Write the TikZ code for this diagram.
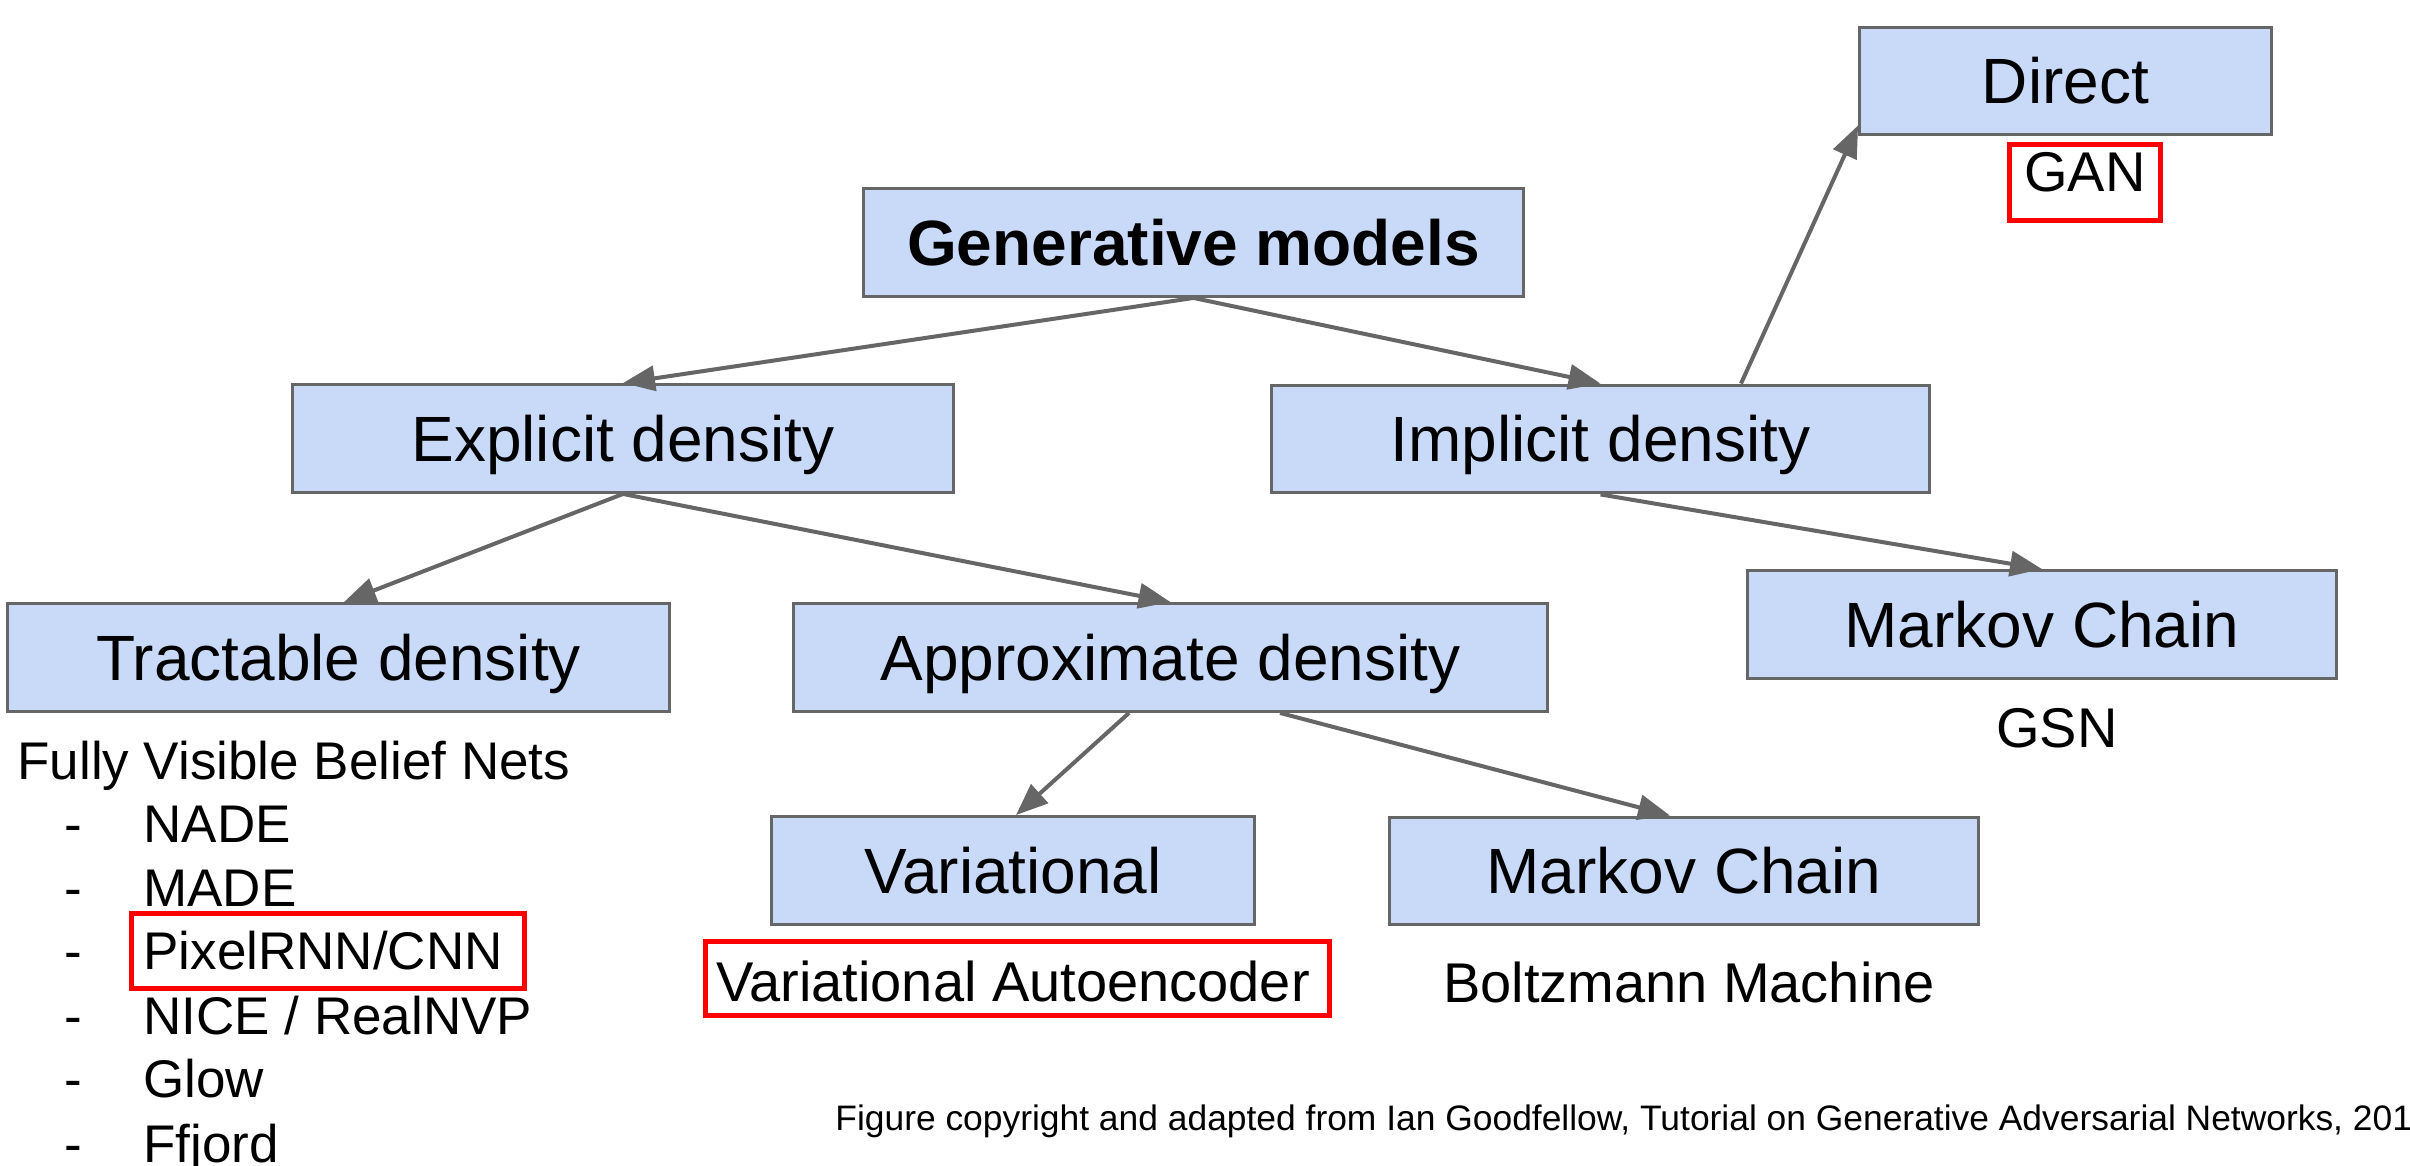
\documentclass[tikz,border=0pt]{standalone}
\usepackage{fontspec}
\setmainfont{Liberation Sans}
\usetikzlibrary{arrows.meta}
\definecolor{boxfill}{HTML}{C9DAF8}
\definecolor{boxline}{HTML}{666666}
\definecolor{hl}{HTML}{FF0000}
\begin{document}
\begin{tikzpicture}[x=0.5pt,y=-0.5pt,
  cat/.style={draw=boxline, line width=1.65pt, fill=boxfill, inner sep=0pt,
    minimum height=53.8pt, font=\fontsize{32pt}{38pt}\selectfont,
    text height=22.9pt, text depth=0pt},
  link/.style={draw=boxline, line width=2pt, -{Triangle[length=16pt,width=12.5pt]}},
  sub/.style={inner sep=0pt, anchor=base, font=\fontsize{28pt}{34pt}\selectfont},
  item/.style={inner sep=0pt, anchor=base west, font=\fontsize{26.5pt}{32pt}\selectfont},
  dashmark/.style={inner sep=0pt, anchor=base, font=\fontsize{26.5pt}{32pt}\selectfont},
  frame/.style={draw=hl, line width=2.5pt}]

\path[fill=white, use as bounding box] (0,0) rectangle (2410,1166);

% category boxes
\node[cat, minimum width=329.8pt] (gen)     at (1193.5,242.5) {\textbf{Generative models}};
\node[cat, minimum width=205.8pt] (direct)  at (2065.5,81)    {Direct};
\node[cat, minimum width=330.3pt] (expl)    at (623,438.5)    {Explicit density};
\node[cat, minimum width=328.8pt] (impl)    at (1600.5,439)   {Implicit density};
\node[cat, minimum width=294.3pt] (markovG) at (2042,624.5)   {Markov Chain};
\node[cat, minimum width=330.8pt] (tract)   at (338.5,657.5)  {Tractable density};
\node[cat, minimum width=376.8pt] (approx)  at (1170.5,657.5) {Approximate density};
\node[cat, minimum width=241.3pt] (vari)    at (1013,870.5)   {Variational};
\node[cat, minimum width=294.3pt] (markovB) at (1684,871)     {Markov Chain};

% connectors
\draw[link] (gen.south) -- (expl.north);
\draw[link] (gen.south) -- (impl.north);
\draw[link] ([xshift=70.25pt]impl.north) -- ([yshift=5.5pt]direct.south west);
\draw[link] (expl.south) -- ([xshift=2.75pt]tract.north);
\draw[link] (expl.south) -- (approx.north);
\draw[link] (impl.south) -- (markovG.north);
\draw[link] ([xshift=-20.75pt]approx.south) -- ([xshift=1.5pt]vari.north);
\draw[link] ([xshift=54.75pt]approx.south) -- ([xshift=-7pt]markovB.north);

% example models
\node[sub] (gan)   at (2085,192)  {GAN};
\node[sub] (gsn)   at (2057,747)  {GSN};
\node[sub] (vae)   at (1013,1001) {Variational Autoencoder};
\node[sub] (boltz) at (1689,1002) {Boltzmann Machine};

\node[item] (fvbn) at (17,779) {Fully Visible Belief Nets};
\foreach \name/\txt/\yb in {nade/{NADE}/842, made/{MADE}/906, pixel/{PixelRNN/CNN}/969,
    nice/{NICE / RealNVP}/1034, glow/{Glow}/1097, ffjord/{Ffjord}/1162}{
  \node[dashmark] (d-\name) at (73,\yb) {-};
  \node[item] (\name) at (143,\yb) {\txt};
}

% highlight frames
\draw[frame] (2009.5,144.5) rectangle (2160.5,220.5);
\draw[frame] (705.5,941.5) rectangle (1329.5,1015.5);
\draw[frame] (131.5,913.5) rectangle (524.5,988.5);

% credit line
\node[inner sep=0pt, anchor=base west, font=\fontsize{17.7pt}{21pt}\selectfont] (credit) at (835,1130)
  {Figure copyright and adapted from Ian Goodfellow, Tutorial on Generative Adversarial Networks, 2017};
\end{tikzpicture}
\end{document}
